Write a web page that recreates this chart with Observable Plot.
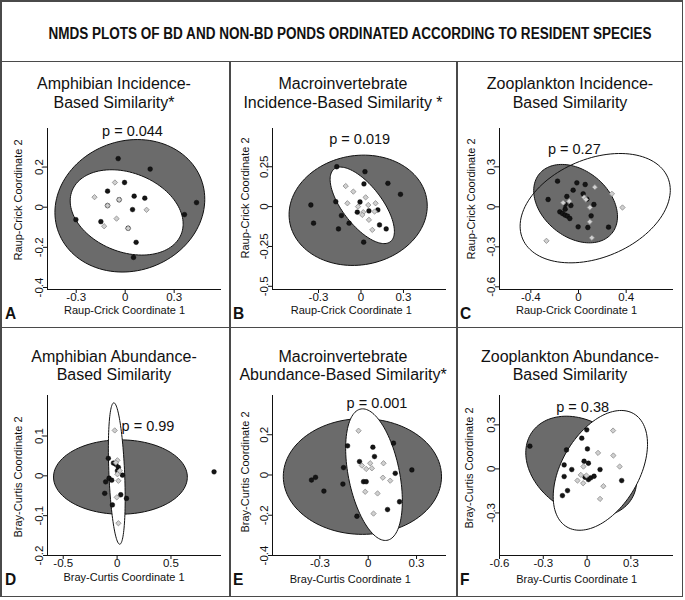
<!DOCTYPE html>
<html><head><meta charset="utf-8">
<script src="https://cdn.jsdelivr.net/npm/d3@7"></script>
<script src="https://cdn.jsdelivr.net/npm/@observablehq/plot@0.6"></script>
<style>
html,body{margin:0;padding:0;background:#fff;}
#fig{position:relative;width:685px;height:600px;overflow:hidden;font-family:"Liberation Sans",Arial,sans-serif;color:#111;background:#fff;}
.ln{position:absolute;background:#4a4a4a;z-index:5;}
.t{position:absolute;white-space:nowrap;line-height:1;z-index:4;}
</style></head><body><div id="fig"></div>
<script>
// ---------- data ----------
const mainTitle = "NMDS PLOTS OF BD AND NON-BD PONDS ORDINATED ACCORDING TO RESIDENT SPECIES";
const panelLetters = ["A","B","C","D","E","F"];
const titleLine1 = ["Amphibian Incidence-","Macroinvertebrate","Zooplankton Incidence-","Amphibian Abundance-","Macroinvertebrate","Zooplankton Abundance-"];
const titleLine2 = ["Based Similarity*","Incidence-Based Similarity *","Based Similarity","Based Similarity","Abundance-Based Similarity*","Based Similarity"];
const pLabels = ["p = 0.044","p = 0.019","p = 0.27","p = 0.99","p = 0.001","p = 0.38"];
const xTitles = ["Raup-Crick Coordinate 1","Raup-Crick Coordinate 1","Raup-Crick Coordinate 1","Bray-Curtis Coordinate 1","Bray-Curtis Coordinate 1","Bray-Curtis Coordinate 1"];
const yTitles = ["Raup-Crick Coordinate 2","Raup-Crick Coordinate 2","Raup-Crick Coordinate 2","Bray-Curtis Coordinate 2","Bray-Curtis Coordinate 2","Bray-Curtis Coordinate 2"];
const xTicks = [[-0.3,0,0.3],[-0.3,0,0.3],[-0.4,0,0.4],[-0.5,0,0.5],[-0.3,0,0.3],[-0.6,-0.3,0,0.3]];
const yTicks = [[-0.4,-0.2,0,0.2],[-0.5,-0.25,0,0.25],[-0.6,-0.3,0,0.3],[-0.2,-0.1,0,0.1],[-0.4,-0.2,0,0.2],[-0.3,0,0.3]];
const xDomains = [[-0.476,0.59],[-0.625,0.604],[-0.663,0.797],[-0.646,0.969],[-0.594,0.486],[-0.6,0.592]];
const yDomains = [[-0.41,0.392],[-0.52,0.49],[-0.62,0.5875],[-0.2,0.2017],[-0.4,0.395],[-0.59,0.5]];

// ellipses: centre, half extents in x and y, tilt (relative height of rightmost point)
const grayCx = [0.0285,-0.02,-0.0245,0.031,-0.036,-0.04];
const grayCy = [0.007,-0.023,0.024,-0.003,-0.0075,0.017];
const grayRx = [0.459,0.488,0.3515,0.621,0.491,0.38];
const grayRy = [0.33,0.346,0.294,0.0933,0.2875,0.342];
const grayTilt = [0.1,0.08,-0.33,0,0,-0.27];
const whiteCx = [0.009,0.009,0.14,-0.003,0.036,0.091];
const whiteCy = [-0.026,0.008,-0.01,0.0058,0.0017,-0.01];
const whiteRx = [0.346,0.227,0.63,0.078,0.176,0.323];
const whiteRy = [0.2125,0.24,0.41,0.1775,0.327,0.408];
const whiteTilt = [-0.27,-0.68,0.33,-0.35,-0.4,0.44];
const whiteOnTop = [true,true,false,true,true,true];

const A_black = [[-0.043,0.242],[0.153,0.19],[0.437,0.023],[0.363,-0.037],[-0.302,-0.062],[-0.108,0.08],[-0.004,0.123],[0.055,0.055],[0.12,0.045],[0.045,-0.012],[-0.149,-0.072],[0.067,-0.175],[0.051,-0.25],[-0.108,0.008],[-0.037,0.037],[0.018,-0.105]];
const A_gray = [[-0.063,0.123],[-0.188,0.05],[0.131,-0.013],[-0.053,-0.057],[-0.129,-0.095],[-0.108,0.008],[-0.037,0.037],[0.018,-0.105]];
const B_black = [[-0.171,0.25],[0.028,0.219],[0.19,0.146],[0.021,0.142],[0.279,0.077],[-0.354,0.01],[-0.178,0.031],[-0.007,0.029],[-0.138,-0.056],[-0.026,-0.035],[0.056,-0.027],[0.119,-0.021],[-0.335,-0.104],[-0.084,-0.104],[-0.159,-0.14],[0.131,-0.115],[0.178,-0.14],[0.019,-0.223]];
const B_gray = [[-0.108,0.129],[-0.054,0.094],[0.033,0.058],[-0.096,0.021],[0.0515,0.01],[0.103,0.021],[-0.021,0],[0.016,-0.035],[0.096,-0.031],[0.009,-0.052],[0.056,-0.083],[0.08,-0.146]];
const C_black = [[-0.176,0.1925],[-0.014,0.18],[0.056,0.1675],[-0.045,0.125],[0.039,0.0975],[-0.255,0.055],[-0.098,0.0775],[0.07,0.0575],[-0.112,0.0175],[-0.064,0.01],[0.129,0.0175],[-0.112,-0.0175],[-0.157,-0.0375],[-0.134,-0.05],[-0.112,-0.0625],[-0.092,-0.07],[-0.073,-0.0875],[0.106,-0.0675],[-0.003,-0.15],[0.078,-0.155],[0.252,-0.1525]];
const C_gray = [[0.137,0.1475],[0.28,0.0975],[0.369,-0.005],[0.048,0.07],[0.0615,0.055],[-0.078,0.0425],[-0.129,0.03],[0.095,-0.005],[0.095,-0.1125],[0.112,-0.2325],[-0.269,-0.255]];
const D_black = [[0.9,0.01],[-0.081,0.044],[-0.034,0.032],[-0.012,0.029],[0.012,0.021],[0.05,0.0017],[-0.0745,-0.006],[-0.05,-0.011],[-0.106,-0.015],[-0.115,-0.044],[0.034,-0.0475],[0.087,-0.0567],[-0.0435,-0.073],[0.003,0.0125]];
const D_gray = [[-0.022,0.114],[0.003,0.039],[-0.012,0.033],[0.025,0.0125],[0.003,0.004],[0.012,-0.0125],[-0.003,-0.054],[0.012,-0.119]];
const E_black = [[-0.128,0.145],[0.029,0.138],[0.157,0.158],[0.039,0.0917],[-0.054,0.0667],[-0.153,0.0367],[0.271,0.025],[0.168,0.0083],[-0.157,-0.045],[-0.029,-0.0333],[-0.0124,-0.0333],[0.1945,-0.133],[0.12,-0.1717],[-0.07,-0.205],[-0.352,-0.025],[-0.327,-0.0117],[-0.275,-0.08]];
const E_gray = [[-0.06,0.22],[-0.039,0.0467],[-0.0124,0.03],[0.0124,0.0583],[0.0228,0.0333],[0.095,0.0583],[0.091,-0.0133],[0.1366,-0.0283],[-0.0186,-0.0833],[0.058,-0.0917],[0.033,-0.1917]];
const F_black = [[-0.0023,0.266],[-0.0364,0.209],[-0.141,0.1295],[0.0023,0.136],[-0.0205,0.052],[0.0091,0.0386],[-0.157,0.027],[-0.105,-0.0045],[0.0888,-0.0045],[-0.157,-0.052],[-0.0137,-0.057],[0.0091,-0.0727],[0.025,-0.061],[0.0478,-0.05],[0.237,-0.0795],[-0.134,-0.148],[-0.169,-0.182],[-0.392,0.155]];
const F_gray = [[0.178,0.261],[0.075,0.109],[0.18,0.091],[-0.025,0.0159],[0.223,0.0159],[-0.043,-0.041],[-0.0046,-0.0455],[-0.066,-0.0795],[-0.027,-0.0977],[0.1116,-0.118],[0.0888,-0.2045]];
const blackPoints = [A_black,B_black,C_black,D_black,E_black,F_black];
const grayPoints = [A_gray,B_gray,C_gray,D_gray,E_gray,F_gray];

// ---------- layout ----------
const fig = document.getElementById("fig");
const FONT = "Liberation Sans, Arial, sans-serif";
const colX = [0,230,457], colW = [230,227,228];
const rowY = [61,327], rowH = [266,273];
const frameL = [47,272,499], frameR = [221,446,673];
const frameT = [128,395], frameB = [289,555];
const titleCx = [114,343,570];
const titleY1 = [84,357], titleY2 = [102.5,375];
const pPos = [[132.5,131],[359.7,139],[574.3,149],[148,425.7],[377,403.3],[582.7,406.7]];
const xTitlePos = [[124.5,309.5],[351.3,309.5],[576.5,309.5],[124,576.5],[350.3,578.5],[576.7,578.5]];
const yTitlePos = [[18.3,200],[244.7,198.3],[471,199],[18.3,476.7],[244.7,471.7],[469.3,467.7]];
const letterX = [5,233,460], letterY = [312.7,579];

function text(str, x, y, o = {}) {
  const el = document.createElement("div");
  el.className = "t";
  el.textContent = str;
  el.style.left = x + "px"; el.style.top = y + "px";
  el.style.fontSize = (o.size || 12) + "px";
  el.style.fontWeight = o.weight || "normal";
  const tx = o.anchor === "start" ? "0" : "-50%";
  el.style.transform = `translate(${tx},-50%)` + (o.rotate ? ` rotate(${o.rotate}deg)` : "") +
    ` scale(${o.scaleX || 1},${o.scaleY || 1})`;
  fig.appendChild(el);
}
function hline(x, y, w, t) { const d = document.createElement("div"); d.className = "ln"; Object.assign(d.style, {left: x+"px", top: y+"px", width: w+"px", height: t+"px"}); fig.appendChild(d); }
function vline(x, y, h, t) { const d = document.createElement("div"); d.className = "ln"; Object.assign(d.style, {left: x+"px", top: y+"px", width: t+"px", height: h+"px"}); fig.appendChild(d); }

function ellipse(cx, cy, rx, ry, k) {
  const s = Math.sqrt(1 - k * k);
  return d3.range(0, 360, 3).map(deg => {
    const t = deg * Math.PI / 180;
    return {x: cx + rx * Math.cos(t), y: cy + ry * (k * Math.cos(t) + s * Math.sin(t))};
  });
}
const fmt = d => d === 0 ? "0" : String(d);

for (let i = 0; i < 6; i++) {
  const col = i % 3, row = Math.floor(i / 3);
  const g = ellipse(grayCx[i], grayCy[i], grayRx[i], grayRy[i], grayTilt[i]);
  const w = ellipse(whiteCx[i], whiteCy[i], whiteRx[i], whiteRy[i], whiteTilt[i]);
  const marks = [
    Plot.line(g, {x: "x", y: "y", fill: "#6b6b6b", stroke: "#111", strokeWidth: 1, curve: "linear-closed"}),
    Plot.line(w, {x: "x", y: "y", fill: whiteOnTop[i] ? "white" : "none", stroke: "#111", strokeWidth: 1, curve: "linear-closed"}),
    Plot.ruleX([xDomains[i][0]], {stroke: "#111", strokeWidth: 1}),
    Plot.ruleY([yDomains[i][0]], {stroke: "#111", strokeWidth: 1}),
    Plot.axisX({ticks: xTicks[i], tickFormat: fmt, tickSize: 4, tickPadding: -1, label: null, fontSize: 11.5}),
    Plot.axisY({ticks: yTicks[i], tickFormat: fmt, tickSize: 4, tickPadding: 1, tickRotate: -90, label: null, fontSize: 11.5}),
    Plot.dot(blackPoints[i], {x: d => d[0], y: d => d[1], r: 2.4, fill: "#151515", stroke: "#000", strokeWidth: 0.4}),
    Plot.dot(grayPoints[i], {x: d => d[0], y: d => d[1], symbol: "diamond2", r: 2.4, fill: "#d0d0d0", stroke: "#8a8a8a", strokeWidth: 0.8})
  ];
  const svg = Plot.plot({
    width: colW[col], height: rowH[row],
    marginLeft: frameL[col] - colX[col], marginRight: colX[col] + colW[col] - frameR[col],
    marginTop: frameT[row] - rowY[row], marginBottom: rowY[row] + rowH[row] - frameB[row],
    x: {domain: xDomains[i]}, y: {domain: yDomains[i]},
    style: {background: "transparent", fontFamily: FONT, fontSize: "11.5px", color: "#111", overflow: "visible"},
    marks
  });
  Object.assign(svg.style, {position: "absolute", left: colX[col] + "px", top: rowY[row] + "px", maxWidth: "none"});
  fig.appendChild(svg);

  text(titleLine1[i], titleCx[col], titleY1[row], {size: 16, scaleY: 1.04});
  text(titleLine2[i], titleCx[col], titleY2[row], {size: 16, scaleY: 1.04});
  text(pLabels[i], pPos[i][0], pPos[i][1], {size: 14.5});
  text(xTitles[i], xTitlePos[i][0], xTitlePos[i][1], {size: 11});
  text(yTitles[i], yTitlePos[i][0], yTitlePos[i][1], {size: 11, rotate: -90});
  text(panelLetters[i], letterX[col], letterY[row], {size: 15.5, weight: "bold", anchor: "start", scaleY: 1.05});
}

text(mainTitle, 350, 33.5, {size: 16, weight: "bold", scaleX: 0.845});

// borders
hline(0, 0, 683, 1.5); hline(0, 595.5, 683, 1.5);
vline(0, 0, 597, 1.5); vline(681.5, 0, 597, 1.5);
hline(0, 60.5, 683, 1.5); hline(0, 326.5, 683, 1.5);
vline(229.3, 61, 536, 1.5); vline(456.3, 61, 536, 1.5);
</script></body></html>
